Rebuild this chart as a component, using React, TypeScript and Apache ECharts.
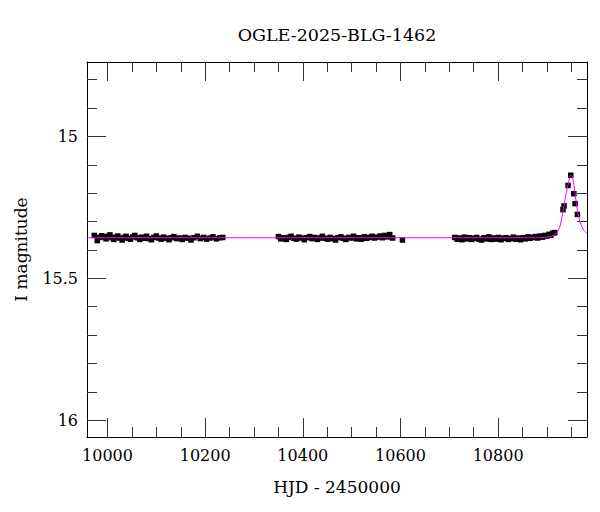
import React, { useEffect, useRef } from "react";
import * as echarts from "echarts";

const TITLE = "OGLE-2025-BLG-1462";
const X_NAME = "HJD - 2450000";
const Y_NAME = "I magnitude";

const X_MIN = 9958;
const X_MAX = 10982;
const Y_MIN = 14.738;
const Y_MAX = 16.059;

const xMajorTicks = [10000, 10200, 10400, 10600, 10800];
const xMinorTicks = [
  10050, 10100, 10150, 10250, 10300, 10350, 10450, 10500, 10550, 10650, 10700,
  10750, 10850, 10900, 10950,
];
const yMajorTicks = [15, 15.5, 16];
const yMinorTicks = [14.8, 14.9, 15.1, 15.2, 15.3, 15.4, 15.6, 15.7, 15.8, 15.9];

// Observations: HJD - 2450000
const obsHJD = [
  9973, 9979, 9984, 9988, 9992, 9997, 10001, 10005, 10009, 10013, 10017, 10021,
  10025, 10030, 10034, 10038, 10042, 10047, 10052, 10056, 10061, 10066, 10070,
  10075, 10080, 10085, 10090, 10095, 10100, 10105, 10110, 10115, 10121, 10126,
  10131, 10136, 10142, 10148, 10153, 10159, 10165, 10171, 10177, 10184, 10190,
  10197, 10203, 10210, 10216, 10223, 10230, 10236,
  10350, 10355, 10360, 10366, 10371, 10376, 10382, 10387, 10392, 10398, 10403,
  10408, 10414, 10419, 10424, 10430, 10435, 10440, 10446, 10451, 10456, 10462,
  10467, 10472, 10478, 10483, 10488, 10494, 10499, 10504, 10510, 10515, 10520,
  10526, 10531, 10536, 10542, 10547, 10552, 10558, 10563, 10568, 10573, 10578,
  10584, 10604,
  10711, 10716, 10721, 10726, 10731, 10736, 10741, 10746, 10751, 10756, 10761,
  10766, 10771, 10776, 10781, 10786, 10791, 10796, 10801, 10806, 10811, 10816,
  10821, 10826, 10831, 10836, 10841, 10846, 10851, 10856, 10861, 10866, 10871,
  10876, 10881, 10886, 10891, 10896, 10900, 10904, 10908, 10912, 10916,
  10932.8, 10935, 10943.2, 10948.8, 10955, 10957.6, 10962.4,
];
// Observations: I magnitude
const obsMag = [
  15.349, 15.367, 15.356, 15.350, 15.354, 15.361, 15.352, 15.347, 15.357,
  15.363, 15.355, 15.351, 15.358, 15.365, 15.356, 15.352, 15.359, 15.362,
  15.354, 15.349, 15.357, 15.363, 15.355, 15.359, 15.352, 15.360, 15.364,
  15.356, 15.351, 15.358, 15.362, 15.355, 15.359, 15.364, 15.357, 15.353,
  15.360, 15.358, 15.363, 15.356, 15.359, 15.365, 15.357, 15.352, 15.360,
  15.356, 15.362, 15.358, 15.354, 15.361, 15.357, 15.356,
  15.353, 15.361, 15.357, 15.363, 15.356, 15.352, 15.359, 15.362, 15.355,
  15.358, 15.364, 15.357, 15.353, 15.360, 15.356, 15.363, 15.358, 15.352,
  15.359, 15.362, 15.356, 15.360, 15.365, 15.357, 15.354, 15.359, 15.363,
  15.356, 15.358, 15.352, 15.361, 15.357, 15.362, 15.354, 15.359, 15.356,
  15.352, 15.358, 15.355, 15.351, 15.357, 15.349, 15.354, 15.346, 15.358,
  15.365,
  15.356, 15.362, 15.358, 15.364, 15.355, 15.361, 15.357, 15.363, 15.359,
  15.356, 15.362, 15.365, 15.357, 15.361, 15.354, 15.363, 15.358, 15.362,
  15.356, 15.364, 15.359, 15.357, 15.363, 15.360, 15.355, 15.362, 15.358,
  15.364, 15.357, 15.361, 15.354, 15.359, 15.356, 15.353, 15.358, 15.351,
  15.355, 15.349, 15.351, 15.345, 15.348, 15.341, 15.339,
  15.258, 15.245, 15.173, 15.137, 15.202, 15.237, 15.275,
];

// Model light curve
const modelHJD = [
  9958, 10880, 10900, 10912, 10920, 10926, 10930, 10934, 10938, 10942, 10946,
  10949, 10952, 10955, 10958, 10962, 10966, 10970, 10975, 10982,
];
const modelMag = [
  15.357, 15.357, 15.355, 15.35, 15.34, 15.32, 15.29, 15.255, 15.215, 15.18,
  15.15, 15.136, 15.143, 15.17, 15.21, 15.255, 15.29, 15.312, 15.33, 15.342,
];

const FONT = "DejaVu Serif";

function makeX(position: "bottom" | "top", ticks: number[], len: number, labels: boolean, line: boolean) {
  return {
    type: "value",
    position,
    min: X_MIN,
    max: X_MAX,
    axisLine: { show: line, onZero: false, lineStyle: { color: "#000", width: 1 } },
    axisTick: { show: true, inside: true, length: len, customValues: ticks, lineStyle: { color: "#333", width: 1 } },
    axisLabel: labels
      ? { show: true, customValues: ticks, formatter: (v: number) => String(v), fontFamily: FONT, fontSize: 16, color: "#000", margin: 10 }
      : { show: false },
    splitLine: { show: false },
    ...(labels && position === "bottom"
      ? { name: X_NAME, nameLocation: "middle", nameGap: 41, nameTextStyle: { fontFamily: FONT, fontSize: 17, color: "#000" } }
      : {}),
  };
}

function makeY(position: "left" | "right", ticks: number[], len: number, labels: boolean, line: boolean) {
  return {
    type: "value",
    position,
    inverse: true,
    min: Y_MIN,
    max: Y_MAX,
    axisLine: { show: line, onZero: false, lineStyle: { color: "#000", width: 1 } },
    axisTick: { show: true, inside: true, length: len, customValues: ticks, lineStyle: { color: "#333", width: 1 } },
    axisLabel: labels
      ? { show: true, customValues: ticks, formatter: (v: number) => String(v), fontFamily: FONT, fontSize: 16, color: "#000", margin: 9 }
      : { show: false },
    splitLine: { show: false },
    ...(labels && position === "left"
      ? { name: Y_NAME, nameLocation: "middle", nameGap: 58, nameTextStyle: { fontFamily: FONT, fontSize: 17, color: "#000" } }
      : {}),
  };
}

export default function App() {
  const ref = useRef<HTMLDivElement>(null);
  useEffect(() => {
    if (!ref.current) return;
    const chart = echarts.init(ref.current, null, { renderer: "svg" });
    const obs = obsHJD.map((x, i) => [x, obsMag[i]]);
    const model = modelHJD.map((x, i) => [x, modelMag[i]]);
    chart.setOption({
      animation: false,
      backgroundColor: "#fff",
      grid: { left: 87, right: 13, top: 62, bottom: 75, containLabel: false },
      graphic: [
        {
          type: "text",
          x: 337,
          y: 35,
          style: {
            text: TITLE,
            fontFamily: FONT,
            fontSize: 17.5,
            fill: "#000",
            textAlign: "center",
            textVerticalAlign: "middle",
          },
        },
      ],
      xAxis: [
        makeX("bottom", xMajorTicks, 19, true, true),
        makeX("bottom", xMinorTicks, 10, false, false),
        makeX("top", xMajorTicks, 19, false, true),
        makeX("top", xMinorTicks, 10, false, false),
      ],
      yAxis: [
        makeY("left", yMajorTicks, 19, true, true),
        makeY("left", yMinorTicks, 10, false, false),
        makeY("right", yMajorTicks, 19, false, true),
        makeY("right", yMinorTicks, 10, false, false),
      ],
      series: [
        {
          type: "scatter",
          data: obs,
          xAxisIndex: 0,
          yAxisIndex: 0,
          symbol: "rect",
          symbolSize: 5.5,
          itemStyle: { color: "#000", opacity: 1 },
          z: 2,
        },
        {
          type: "line",
          data: model,
          xAxisIndex: 0,
          yAxisIndex: 0,
          showSymbol: false,
          smooth: 0.4,
          lineStyle: { color: "#ff00ff", width: 1 },
          z: 3,
        },
      ],
    });
    return () => chart.dispose();
  }, []);
  return <div ref={ref} style={{ position: "absolute", left: 0, top: 0, width: 600, height: 512 }} />;
}
